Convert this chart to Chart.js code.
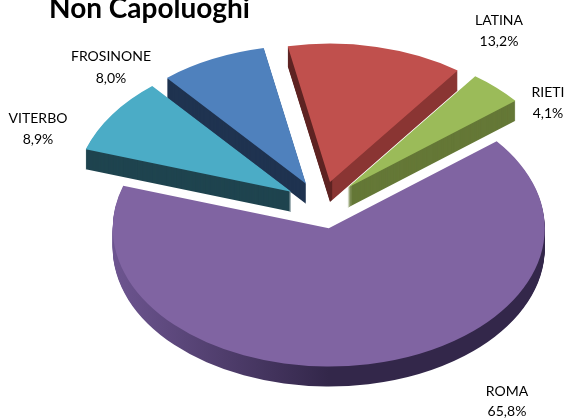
<!DOCTYPE html>
<html>
<head>
<meta charset="utf-8">
<style>html,body{margin:0;padding:0;background:#fff}#w{position:relative;width:568px;height:418px}</style>
<script src="https://cdn.jsdelivr.net/npm/chart.js@4"></script>
</head>
<body>
<div id="w"><canvas id="c" width="568" height="418"></canvas></div>
<script>
const categories = ['ROMA', 'VITERBO', 'FROSINONE', 'LATINA', 'RIETI'];
const values = [65.8, 8.9, 8.0, 13.2, 4.1];
const topColors = ['#8064a2', '#4bacc6', '#4f81bd', '#c0504d', '#9bbb59'];
const wallColors = ['#33274a', '#1f444f', '#1f3350', '#8a3533', '#657837'];
const titleText = 'Non Capoluoghi';

const TILT = 0.64, DEPTH = 20, EXPLODE = 37, CX = 322, CY = 205;
const DRAW_ORDER = [2, 1, 3, 4, 0];
const LABEL_POS = [[507, 391, 411], [38, 118, 139], [111, 56, 78], [499, 20, 41], [548, 92, 113]];

function wallFill(ctx, i, arc) {
  const R = arc.outerRadius;
  if (i === 0) {
    const g = ctx.createLinearGradient(arc.x - R, 0, arc.x + R, 0);
    g.addColorStop(0, '#6d5590');
    g.addColorStop(0.5, '#33274a');
    g.addColorStop(1, '#33274a');
    return g;
  }
  if (i === 3) {
    const g = ctx.createLinearGradient(arc.x - R, 0, arc.x + R, 0);
    g.addColorStop(0, '#5e2322');
    g.addColorStop(0.505, '#5e2322');
    g.addColorStop(0.506, wallColors[3]);
    g.addColorStop(1, wallColors[3]);
    return g;
  }
  return wallColors[i];
}

function paintArc(ctx, arc, fill, dy) {
  const mid = (arc.startAngle + arc.endAngle) / 2;
  const saved = arc.options;
  arc.options = {backgroundColor: fill, borderColor: fill, borderWidth: 0, offset: 0, spacing: 0,
    circular: true, borderRadius: 0, borderAlign: 'center', borderDash: [], borderDashOffset: 0};
  ctx.save();
  ctx.translate(CX, CY + dy);
  ctx.scale(1, TILT);
  ctx.translate(Math.cos(mid) * EXPLODE - arc.x, Math.sin(mid) * EXPLODE - arc.y);
  arc.draw(ctx);
  ctx.restore();
  arc.options = saved;
}

const pie3d = {
  id: 'pie3d',
  beforeDatasetDraw(chart, args) {
    const ctx = chart.ctx, arcs = args.meta.data;
    for (const i of DRAW_ORDER) {
      const arc = arcs[i];
      const wall = wallFill(ctx, i, arc);
      for (let d = DEPTH; d >= 1; d--) paintArc(ctx, arc, wall, d);
      paintArc(ctx, arc, topColors[i], 0);
    }
    return false;
  },
  afterDraw(chart) {
    const ctx = chart.ctx;
    ctx.save();
    ctx.fillStyle = '#000';
    ctx.font = '14px Lato';
    ctx.textAlign = 'center';
    ctx.textBaseline = 'middle';
    categories.forEach((name, i) => {
      const [x, y1, y2] = LABEL_POS[i];
      ctx.fillText(name, x, y1);
      ctx.fillText(values[i].toFixed(1).replace('.', ',') + '%', x, y2);
    });
    ctx.restore();
  }
};

new Chart(document.getElementById('c'), {
  type: 'pie',
  data: {
    labels: categories,
    datasets: [{data: values, backgroundColor: topColors, borderWidth: 0}]
  },
  options: {
    responsive: false,
    animation: false,
    rotation: 51,
    radius: 216,
    layout: {padding: {left: 49, top: -8}},
    plugins: {
      legend: {display: false},
      tooltip: {enabled: false},
      title: {display: true, text: titleText, align: 'start', color: '#000',
        font: {family: 'Lato', size: 28, weight: 'bold'}, padding: 0}
    }
  },
  plugins: [pie3d]
});
</script>
</body>
</html>
